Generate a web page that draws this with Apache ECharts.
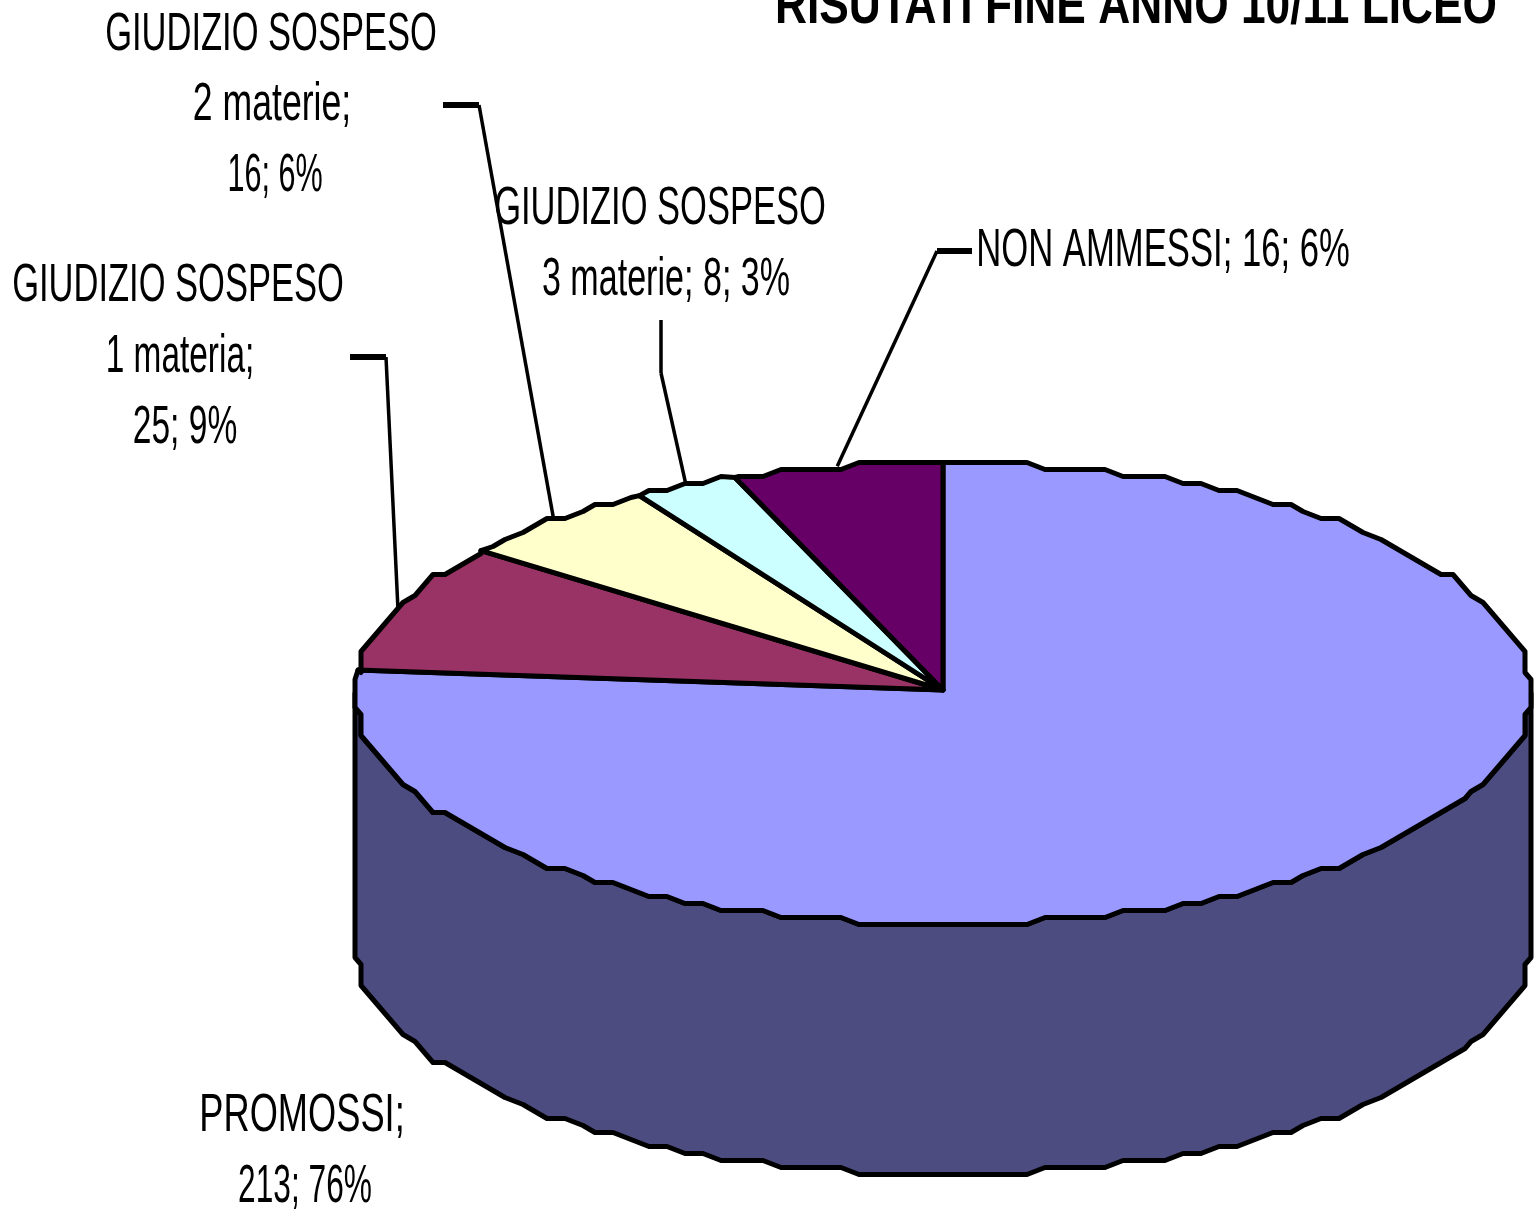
<!DOCTYPE html>
<html>
<head>
<meta charset="utf-8">
<style>html,body{margin:0;padding:0;background:#fff}#c{width:1535px;height:1211px}</style>
<script src="https://cdn.jsdelivr.net/npm/echarts@6/dist/echarts.min.js"></script>
</head>
<body>
<div id="c"></div>
<script>
const categories = ['PROMOSSI', 'GIUDIZIO SOSPESO 1 materia', 'GIUDIZIO SOSPESO 2 materie', 'GIUDIZIO SOSPESO 3 materie', 'NON AMMESSI'];
const values = [213, 25, 16, 8, 16];
const percents = [76, 9, 6, 3, 6];
const titleText = 'RISUTATI FINE ANNO 10/11 LICEO';
const labelLines = [
  ['PROMOSSI;', '213; 76%'],
  ['GIUDIZIO SOSPESO', '1 materia;', '25; 9%'],
  ['GIUDIZIO SOSPESO', '2 materie;', '16; 6%'],
  ['GIUDIZIO SOSPESO', '3 materie; 8; 3%'],
  ['NON AMMESSI; 16; 6%']
];
const topColors = ['#9999FF', '#993366', '#FFFFCC', '#CCFFFF', '#660066'];
const sideColor = '#4C4C80';

// layout
const CX = 943, CY = 693.5, RX = 588, RY = 231, DEPTH = 250, GRIDX = 6, GRIDY = 7, STEP = 2, APEX_Y = 690;
const FONT = '"Liberation Sans", Arial, sans-serif';
const labelPos = [
  [[302, 1116], [305, 1187]],
  [[178, 286], [180, 357], [185, 428]],
  [[271, 35], [272, 105], [275, 176]],
  [[660, 209], [666, 280]],
  [[1163, 251]]
];
const labelScale = [[0.684, 0.598], [0.651, 0.63, 0.633], [0.651, 0.672, 0.577], [0.651, 0.643], [0.654]];
const leaderPts = [
  null,
  [[350, 357], [386, 357]],
  [[443, 105], [479, 105]],
  [[661, 320], [661, 373]],
  [[972, 251], [937, 251]]
];
const leaderHeadWidth = [0, 6, 6, 3.5, 6];

const total = values.reduce((a, b) => a + b, 0);
function exact(deg, dy) {
  const t = deg * Math.PI / 180;
  return [CX + RX * Math.sin(t), CY + (dy || 0) - RY * Math.cos(t)];
}
function pt(deg, dy) {
  const t = deg * Math.PI / 180;
  return [CX + Math.round(RX * Math.sin(t) / GRIDX) * GRIDX,
          CY + (dy || 0) + Math.round(-RY * Math.cos(t) / GRIDY) * GRIDY];
}
function arc(a, b, dy) {
  const out = [exact(a, dy)];
  for (let d = Math.ceil(a / STEP) * STEP; d < b; d += STEP) out.push(pt(d, dy));
  out.push(exact(b, dy));
  return out.filter((p, i) => i === 0 || p[0] !== out[i - 1][0] || p[1] !== out[i - 1][1]);
}
const starts = [];
values.reduce((acc, v, i) => { starts[i] = acc; return acc + v; }, 0);

function renderItem(params, api) {
  const i = params.dataIndex;
  const v = api.value(0);
  const a0 = starts[i] / total * 360, a1 = a0 + v / total * 360;
  const children = [];
  const sa = Math.max(a0, 90), sb = Math.min(a1, 270);
  if (sb > sa) {
    const upper = arc(sa, sb, 0);
    const lower = arc(sa, sb, DEPTH).reverse();
    children.push({ type: 'polygon', shape: { points: upper.concat(lower) },
      style: { fill: sideColor, stroke: '#000', lineWidth: 5, lineJoin: 'round' } });
  }
  const ring = arc(a0, a1, 0);
  children.push({ type: 'polygon', shape: { points: [[CX, APEX_Y]].concat(ring) },
    style: { fill: topColors[i], stroke: '#000', lineWidth: 5, lineJoin: 'round' } });
  return { type: 'group', children };
}

function renderLabel(params, api) {
  const i = params.dataIndex;
  const children = [];
  if (leaderPts[i]) {
    const end = exact((starts[i] + api.value(0) / 2) / total * 360, 0);
    children.push({ type: 'polyline', shape: { points: [leaderPts[i][1], end] },
      style: { fill: 'none', stroke: '#000', lineWidth: 3.5 } });
    children.push({ type: 'polyline', shape: { points: leaderPts[i] },
      style: { fill: 'none', stroke: '#000', lineWidth: leaderHeadWidth[i] } });
  }
  labelLines[i].forEach((line, k) => {
    children.push({ type: 'text', x: labelPos[i][k][0], y: labelPos[i][k][1], scaleX: labelScale[i][k],
      style: { text: line, x: 0, y: 0, fill: '#000', font: '53px ' + FONT, textAlign: 'center', textVerticalAlign: 'middle' } });
  });
  return { type: 'group', children };
}

const chart = echarts.init(document.getElementById('c'), null, { renderer: 'canvas', width: 1535, height: 1211 });
chart.setOption({
  animation: false,
  backgroundColor: '#fff',
  graphic: [{ type: 'text', x: 1136, y: 8, scaleX: 0.791, silent: true,
    style: { text: titleText, x: 0, y: 0, fill: '#000', font: 'bold 56px ' + FONT, textAlign: 'center', textVerticalAlign: 'middle' } }],
  series: [
    { type: 'custom', name: 'slices', coordinateSystem: 'none', silent: true, renderItem,
      data: values.map((v, i) => ({ name: categories[i], value: [v, percents[i]] })), z: 2 },
    { type: 'custom', name: 'labels', coordinateSystem: 'none', silent: true, renderItem: renderLabel,
      data: values.map((v, i) => ({ name: categories[i], value: [v, percents[i]] })), z: 3 }
  ]
});
</script>
</body>
</html>
